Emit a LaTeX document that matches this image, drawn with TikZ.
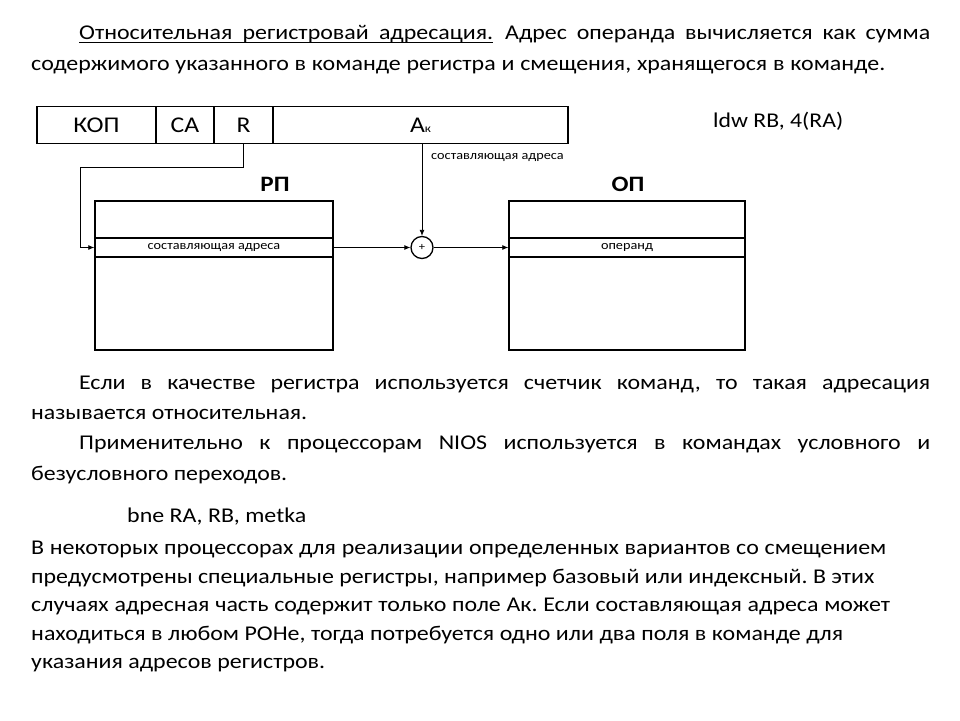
\documentclass[tikz,border=0pt]{standalone}
\usepackage{fontspec}
\setmainfont{Carlito}[FakeStretch=1.14]
\usepackage{graphicx}
\usetikzlibrary{arrows.meta}
\frenchspacing
\newlength\fitw
\newcommand\fitline[2]{\settowidth\fitw{#2}\ifdim\fitw<#1\relax\makebox[#1][s]{#2}\else\resizebox{#1}{\height}{#2}\fi}
\begin{document}
\begin{tikzpicture}[x=1pt,y=-1pt,
  txt/.style={anchor=base west, inner sep=0pt, font=\fontsize{21}{25}\selectfont},
  field/.style={draw, line width=1.4pt, minimum height=37pt, inner sep=0pt, font=\fontsize{22.5}{26}\selectfont},
  reg/.style={draw, line width=1.4pt, minimum width=238pt, minimum height=149pt, inner sep=0pt},
  row/.style={draw, line width=1.4pt, minimum width=238pt, minimum height=19pt, inner sep=0pt, font=\fontsize{12.5}{14}\selectfont},
  ttl/.style={inner sep=0pt, font=\fontsize{22}{26}\selectfont\bfseries},
  conn/.style={draw, line width=0.8pt, -{Latex[length=6pt,width=5pt]}},
  small/.style={inner sep=0pt, font=\fontsize{12.5}{14}\selectfont}]
\useasboundingbox (0,0) rectangle (960,720);
\fill[white] (0,0) rectangle (960,720);

% paragraph 1
\node[txt] (l1a) at (79,39) {\fitline{414pt}{Относительная регистровай адресация.}};
\draw[line width=1pt] ([yshift=-3pt]l1a.base west) -- ([yshift=-3pt]l1a.base east);
\node[txt] (l1b) at (505,39) {\fitline{425pt}{Адрес операнда вычисляется как сумма}};
\node[txt] (l2) at (31,70) {\fitline{854pt}{содержимого указанного в команде регистра и смещения, хранящегося в команде.}};

% instruction word
\node[field, minimum width=119pt] (kop) at (96.5,125) {КОП};
\node[field, minimum width=58pt] (ca) at (185,125) {СА};
\node[field, minimum width=59pt] (r) at (243.5,125) {R};
\node[field, minimum width=295pt] (ak) at (420.5,125) {A{\fontsize{11.5}{12}\selectfont к}};
\node[txt] (ldw) at (713,127) {\fitline{130pt}{ldw RB, 4(RA)}};
\node[small, anchor=west] (lblak) at (431,157) {составляющая адреса};

% registers
\node[ttl] (rpt) at (275,184) {РП};
\node[ttl] (opt) at (628,184) {ОП};
\node[reg] (rp) at (214,275.5) {};
\node[row] (rprow) at (214,247.5) {составляющая адреса};
\node[reg, minimum width=236pt] (op) at (627,275.5) {};
\node[row, minimum width=236pt] (oprow) at (627,247.5) {операнд};
\node[draw, circle, line width=1.3pt, minimum size=22pt, inner sep=0pt, font=\fontsize{11}{12}\selectfont] (sum) at (422,247.5) {+};

% connectors
\coordinate (rk) at (80,167);
\draw[conn] (r.south) |- (rk) |- (rprow.west);
\draw[conn] (ak.south -| sum.north) -- (sum.north);
\draw[conn] (rprow.east) -- (sum.west);
\draw[conn] (sum.east) -- (oprow.west);

% paragraph 2
\node[txt] (l3) at (79,389) {\fitline{851pt}{Если в качестве регистра используется счетчик команд, то такая адресация}};
\node[txt] (l4) at (31,419) {\fitline{276pt}{называется относительная.}};
\node[txt] (l5) at (79,449) {\fitline{851pt}{Применительно к процессорам NIOS используется в командах условного и}};
\node[txt] (l6) at (31,480) {\fitline{256pt}{безусловного переходов.}};
\node[txt] (l7) at (127,522) {\fitline{179pt}{bne RA, RB, metka}};

% paragraph 3
\node[txt] (l8) at (31,554) {\fitline{855pt}{В некоторых процессорах для реализации определенных вариантов со смещением}};
\node[txt] (l9) at (31,583) {\fitline{843pt}{предусмотрены специальные регистры, например базовый или индексный. В этих}};
\node[txt] (l10) at (31,611) {\fitline{859pt}{случаях адресная часть содержит только поле Ак. Если составляющая адреса может}};
\node[txt] (l11) at (31,640) {\fitline{812pt}{находиться в любом РОНе, тогда потребуется одно или два поля в команде для}};
\node[txt] (l12) at (31,668) {\fitline{294pt}{указания адресов регистров.}};
\end{tikzpicture}
\end{document}
